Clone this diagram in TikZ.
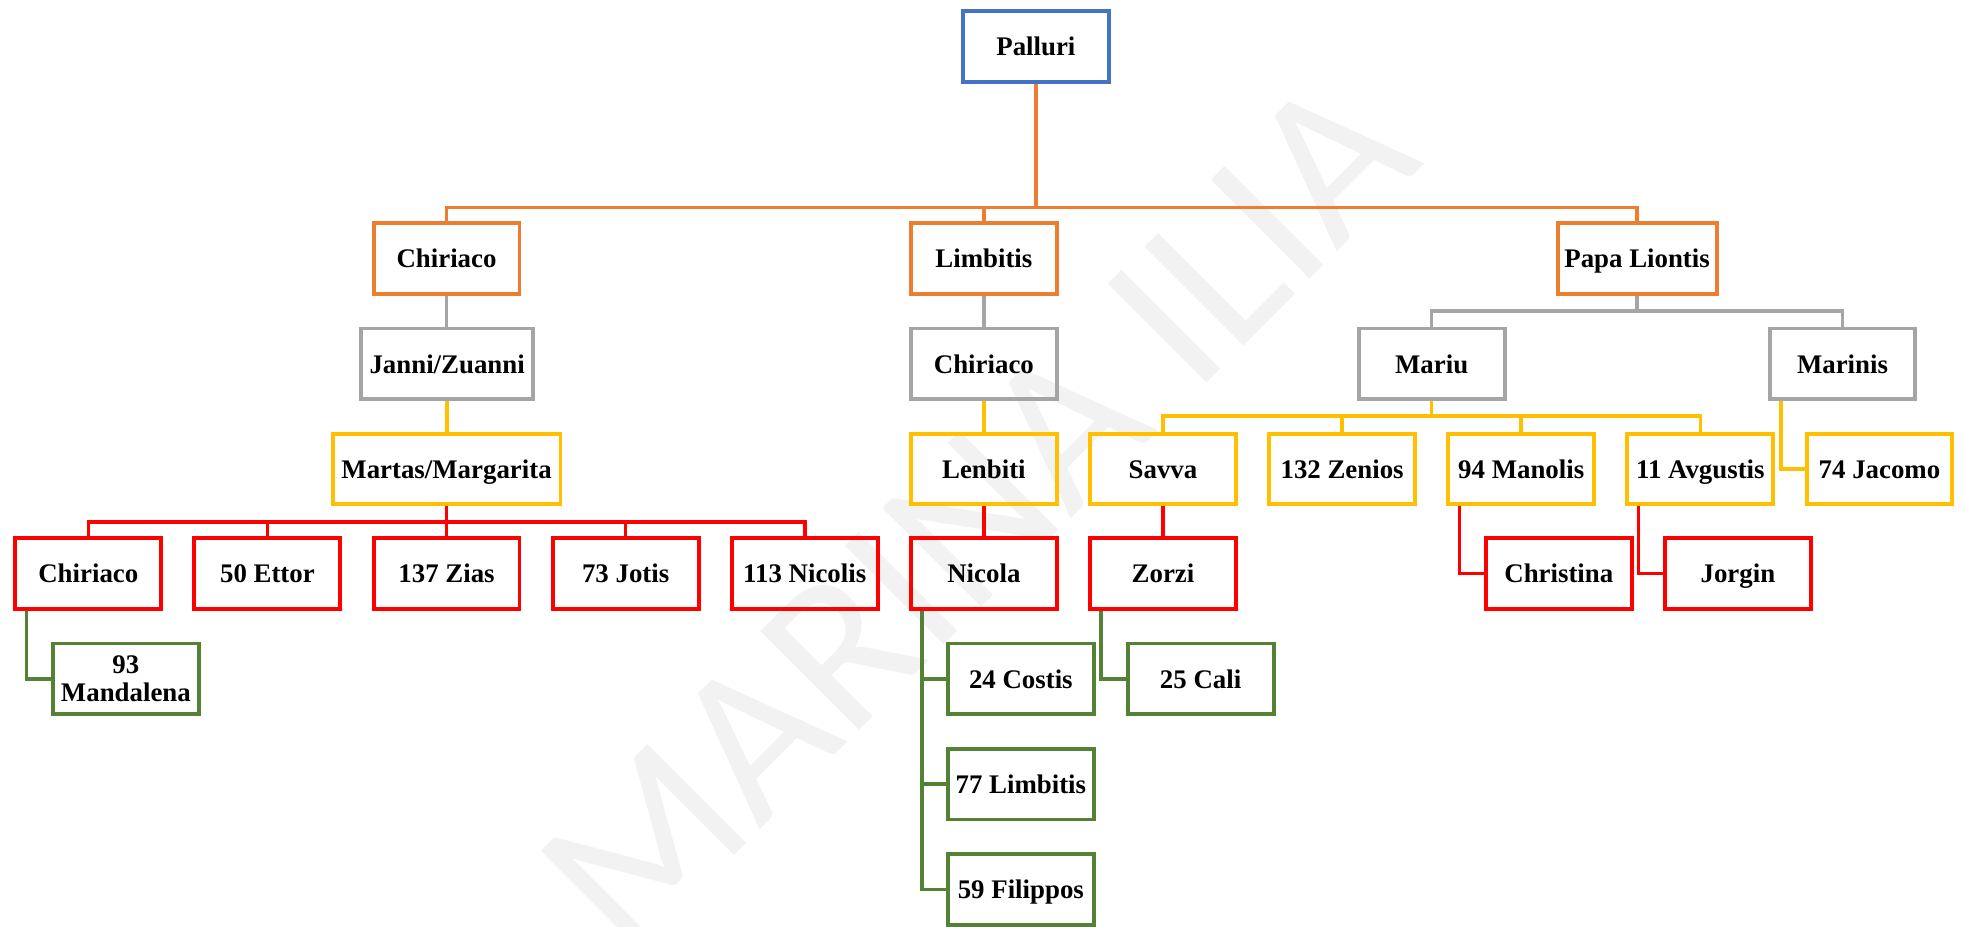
\documentclass[tikz,border=0pt]{standalone}
\usepackage{fontspec}
\setmainfont{Liberation Serif}
\newfontfamily\markfont{Carlito}
\usepackage{tikz}
\definecolor{palblue}{HTML}{4472C4}
\definecolor{palorange}{HTML}{ED7D31}
\definecolor{palgray}{HTML}{A5A5A5}
\definecolor{palgold}{HTML}{FFC000}
\definecolor{palred}{HTML}{FF0000}
\definecolor{palgreen}{HTML}{548235}

\begin{document}
\begin{tikzpicture}[x=0.02cm, y=-0.02cm,
    person/.style={draw, line width=1.8pt, minimum width=2.33cm, minimum height=1.13cm,
        inner sep=1pt, align=center, text height=9.6pt, text depth=1.3pt,
        font=\fontsize{12.2}{13}\selectfont\bfseries},
    link/.style={line width=1.6pt}]
    \useasboundingbox (0,0) rectangle (1568,740);

    % Watermark
    \node[rotate=45, text=black!5, font=\markfont\fontsize{99}{99}\selectfont] (mark) at (780,410) {MARINA ILIA};

    % Root
    \node[person, draw=palblue] (palluri) at (827,37) {Palluri};

    % Sons
    \node[person, draw=palorange] (chiriaco) at (356.5,206.5) {Chiriaco};
    \node[person, draw=palorange] (limbitis) at (785.5,206.5) {Limbitis};
    \node[person, draw=palorange, minimum width=2.54cm] (papa) at (1307,206.5) {Papa Liontis};

    % Next generation
    \node[person, draw=palgray, minimum width=2.74cm] (janni) at (357,290.5) {Janni/Zuanni};
    \node[person, draw=palgray] (chiriacoB) at (785.5,290.5) {Chiriaco};
    \node[person, draw=palgray] (mariu) at (1143,290.5) {Mariu};
    \node[person, draw=palgray] (marinis) at (1471,290.5) {Marinis};

    \node[person, draw=palgold, minimum width=3.64cm] (martas) at (356.5,374.5) {Martas/Margarita};
    \node[person, draw=palgold] (lenbiti) at (785.5,374.5) {Lenbiti};
    \node[person, draw=palgold] (savva) at (928.5,374.5) {Savva};
    \node[person, draw=palgold] (zenios) at (1071.5,374.5) {132 Zenios};
    \node[person, draw=palgold] (manolis) at (1214.5,374.5) {94 Manolis};
    \node[person, draw=palgold] (avgustis) at (1357.5,374.5) {11 Avgustis};
    \node[person, draw=palgold] (jacomo) at (1500.5,374.5) {74 Jacomo};

    \node[person, draw=palred] (chiriacoC) at (70.5,458) {Chiriaco};
    \node[person, draw=palred] (ettor) at (213.5,458) {50 Ettor};
    \node[person, draw=palred] (zias) at (356.5,458) {137 Zias};
    \node[person, draw=palred] (jotis) at (499.5,458) {73 Jotis};
    \node[person, draw=palred] (nicolis) at (642.5,458) {113 Nicolis};
    \node[person, draw=palred] (nicola) at (785.5,458) {Nicola};
    \node[person, draw=palred] (zorzi) at (928.5,458) {Zorzi};
    \node[person, draw=palred] (christina) at (1244.5,458) {Christina};
    \node[person, draw=palred] (jorgin) at (1387.5,458) {Jorgin};

    \node[person, draw=palgreen, text height=, text depth=] (mandalena) at (100.5,542) {93\\Mandalena};
    \node[person, draw=palgreen] (costis) at (815,542) {24 Costis};
    \node[person, draw=palgreen] (cali) at (958.5,542) {25 Cali};
    \node[person, draw=palgreen] (limbitisB) at (815,626) {77 Limbitis};
    \node[person, draw=palgreen] (filippos) at (815,710) {59 Filippos};

    % Links
    \foreach \c in {chiriaco,limbitis,papa}
        \draw[link, palorange] (palluri.south) -- ++(0,99) -| (\c.north);
    \foreach \c in {mariu,marinis}
        \draw[link, palgray] (papa.south) -- ++(0,12) -| (\c.north);
    \foreach \c in {savva,zenios,manolis,avgustis}
        \draw[link, palgold] (mariu.south) -- ++(0,12) -| (\c.north);
    \foreach \c in {chiriacoC,ettor,zias,jotis,nicolis}
        \draw[link, palred] (martas.south) -- ++(0,12.5) -| (\c.north);

    \draw[link, palgray] (chiriaco.south) -- (chiriaco.south |- janni.north);
    \draw[link, palgold] (janni.south) -- (janni.south |- martas.north);
    \draw[link, palgray] (limbitis.south) -- (chiriacoB.north);
    \draw[link, palgold] (chiriacoB.south) -- (lenbiti.north);
    \draw[link, palred] (lenbiti.south) -- (nicola.north);
    \draw[link, palred] (savva.south) -- (zorzi.north);

    % side branches
    \draw[link, palgold] ([xshift=0.21cm]marinis.south west) |- (jacomo.west);
    \draw[link, palred] ([xshift=0.21cm]manolis.south west) |- (christina.west);
    \draw[link, palred] ([xshift=0.21cm]avgustis.south west) |- (jorgin.west);
    \draw[link, palgreen] ([xshift=0.21cm]chiriacoC.south west) |- (mandalena.west);
    \draw[link, palgreen] ([xshift=0.21cm]zorzi.south west) |- (cali.west);
    \foreach \c in {costis,limbitisB,filippos}
        \draw[link, palgreen] ([xshift=0.21cm]nicola.south west) |- (\c.west);
\end{tikzpicture}
\end{document}
